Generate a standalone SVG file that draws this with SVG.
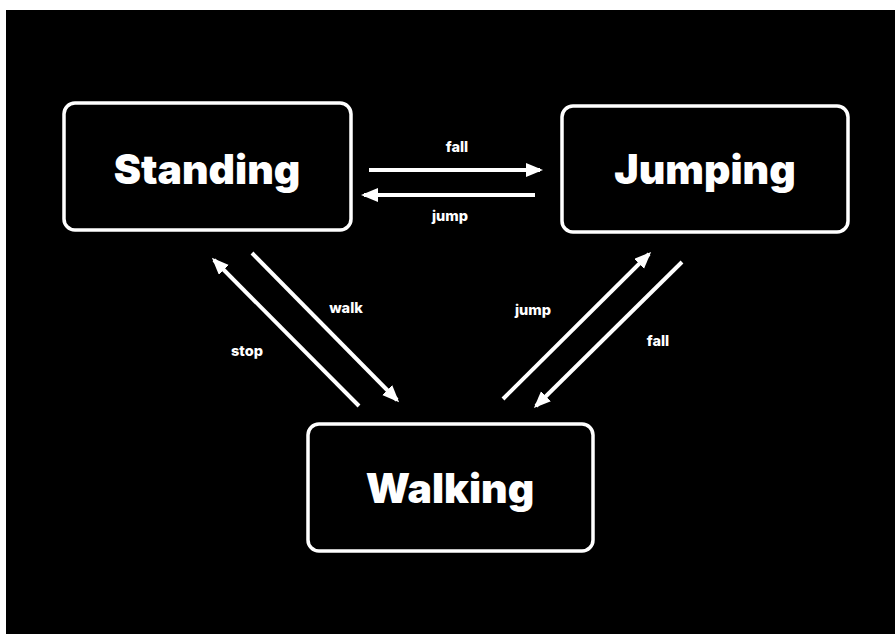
<svg xmlns="http://www.w3.org/2000/svg" width="895" height="640" viewBox="0 0 895 640">
<defs>
<style>
.node{fill:#000;stroke:#fff;stroke-width:3.5}
.ntext{fill:#fff;font-family:Inter,"Liberation Sans",sans-serif;font-weight:900;font-size:41px;text-anchor:middle}
.edge{stroke:#fff;stroke-width:4;fill:none}
.elabel{fill:#fff;font-family:Inter,"Liberation Sans",sans-serif;font-weight:800;font-size:14.5px;text-anchor:middle}
</style>
<marker id="arr" markerUnits="userSpaceOnUse" markerWidth="18" markerHeight="16" refX="14" refY="7" orient="auto">
<path d="M0,0 L17,7 L0,14 z" fill="#fff"/>
</marker>
</defs>
<rect x="0" y="0" width="895" height="640" fill="#fff"/>
<rect x="6" y="10" width="889" height="624" fill="#000"/>
<g id="node-standing">
<rect class="node" x="64" y="103" width="287" height="127" rx="11"/>
<text class="ntext" x="207" y="184">Standing</text>
</g>
<g id="node-jumping">
<rect class="node" x="562" y="106" width="286" height="126" rx="11"/>
<text class="ntext" x="705" y="184">Jumping</text>
</g>
<g id="node-walking">
<rect class="node" x="308" y="424" width="285" height="127" rx="11"/>
<text class="ntext" x="450" y="503">Walking</text>
</g>
<g id="connectors">
<line class="edge" x1="369" y1="170" x2="540" y2="170" marker-end="url(#arr)"/>
<text class="elabel" x="457" y="152">fall</text>
<line class="edge" x1="535" y1="195" x2="364" y2="195" marker-end="url(#arr)"/>
<text class="elabel" x="450" y="221">jump</text>
<line class="edge" x1="359" y1="406" x2="214" y2="260" marker-end="url(#arr)"/>
<text class="elabel" x="247" y="356">stop</text>
<line class="edge" x1="252" y1="253" x2="397" y2="400" marker-end="url(#arr)"/>
<text class="elabel" x="346" y="313">walk</text>
<line class="edge" x1="503" y1="399" x2="649" y2="254" marker-end="url(#arr)"/>
<text class="elabel" x="533" y="315">jump</text>
<line class="edge" x1="682" y1="262" x2="536" y2="406" marker-end="url(#arr)"/>
<text class="elabel" x="658" y="346">fall</text>
</g>
</svg>
